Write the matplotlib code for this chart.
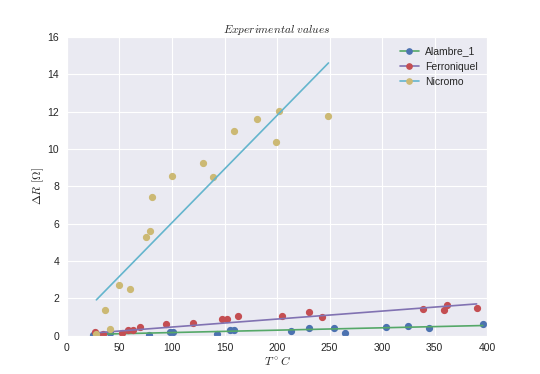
import numpy as np
import matplotlib
matplotlib.use("Agg")
import matplotlib.pyplot as plt
from matplotlib.lines import Line2D
import seaborn as sns

# datos
t_alambre = [25, 33, 41, 78, 98, 101, 143, 155, 159, 213, 230, 254, 265, 304, 325, 345, 396]
r_alambre = [0.05, 0.05, 0.17, 0.05, 0.2, 0.2, 0.1, 0.33, 0.33, 0.25, 0.4, 0.4, 0.15, 0.48, 0.55, 0.4, 0.62]

t_ferro = [27, 34, 52, 58, 63, 70, 94, 120, 148, 152, 163, 205, 230, 243, 339, 359, 362, 390]
r_ferro = [0.2, 0.1, 0.15, 0.3, 0.3, 0.45, 0.63, 0.7, 0.9, 0.9, 1.05, 1.05, 1.27, 1.0, 1.45, 1.4, 1.65, 1.5]

t_nicromo = [28, 36, 41, 50, 60, 75, 79, 81, 100, 130, 139, 159, 181, 199, 202, 249]
r_nicromo = [0.1, 1.4, 0.37, 2.7, 2.5, 5.3, 5.6, 7.45, 8.55, 9.25, 8.5, 10.95, 11.6, 10.4, 12.05, 11.75]

# ajustes lineales (pendiente, ordenada)
fit_alambre = [0.00127, 0.05]
fit_ferro = [0.00427, 0.045]
fit_nicromo = [0.0574, 0.32]

labels = ["Alambre_1", "Ferroniquel", "Nicromo"]
pt_colors = ["#4C72B0", "#C44E52", "#CCB974"]
ln_colors = ["#55A868", "#8172B2", "#64B5CD"]

sns.set_style("darkgrid")
plt.rcParams['font.family'] = ['Liberation Sans', 'DejaVu Sans']
plt.rcParams['mathtext.fontset'] = 'cm'

fig = plt.figure(figsize=(5.4, 3.74), dpi=100)
ax = fig.add_axes([0.124, 0.102, 0.778, 0.799])

series = [(t_alambre, r_alambre, fit_alambre),
          (t_ferro, r_ferro, fit_ferro),
          (t_nicromo, r_nicromo, fit_nicromo)]

handles = []
for i, (t, r, fit) in enumerate(series):
    ax.plot(t, r, 'o', color=pt_colors[i], markersize=4.2)
    xs = np.array([min(t), max(t)])
    ax.plot(xs, np.polyval(fit, xs), '-', color=ln_colors[i], lw=1.2)
    handles.append(Line2D([], [], color=ln_colors[i], lw=1.2, marker='o',
                          markersize=3.8, markerfacecolor=pt_colors[i],
                          markeredgecolor=pt_colors[i]))

ax.set_xlim(0, 400)
ax.set_ylim(0, 16)
ax.set_xticks(range(0, 401, 50))
ax.set_yticks(range(0, 17, 2))
ax.tick_params(labelsize=7.5, colors='.15', pad=2)
ax.set_title(r'$Experimental\ values$', fontsize=8.2, pad=3)
ax.set_xlabel(r'$T^\circ C$', fontsize=8.5, labelpad=1)
ax.set_ylabel(r'$\Delta R\ [\Omega]$', fontsize=8.5, labelpad=1)
ax.legend(handles, labels, loc='upper right', fontsize=7.5, frameon=False,
          handlelength=1.8, handletextpad=0.6)

fig.savefig("out.png", dpi=100)
